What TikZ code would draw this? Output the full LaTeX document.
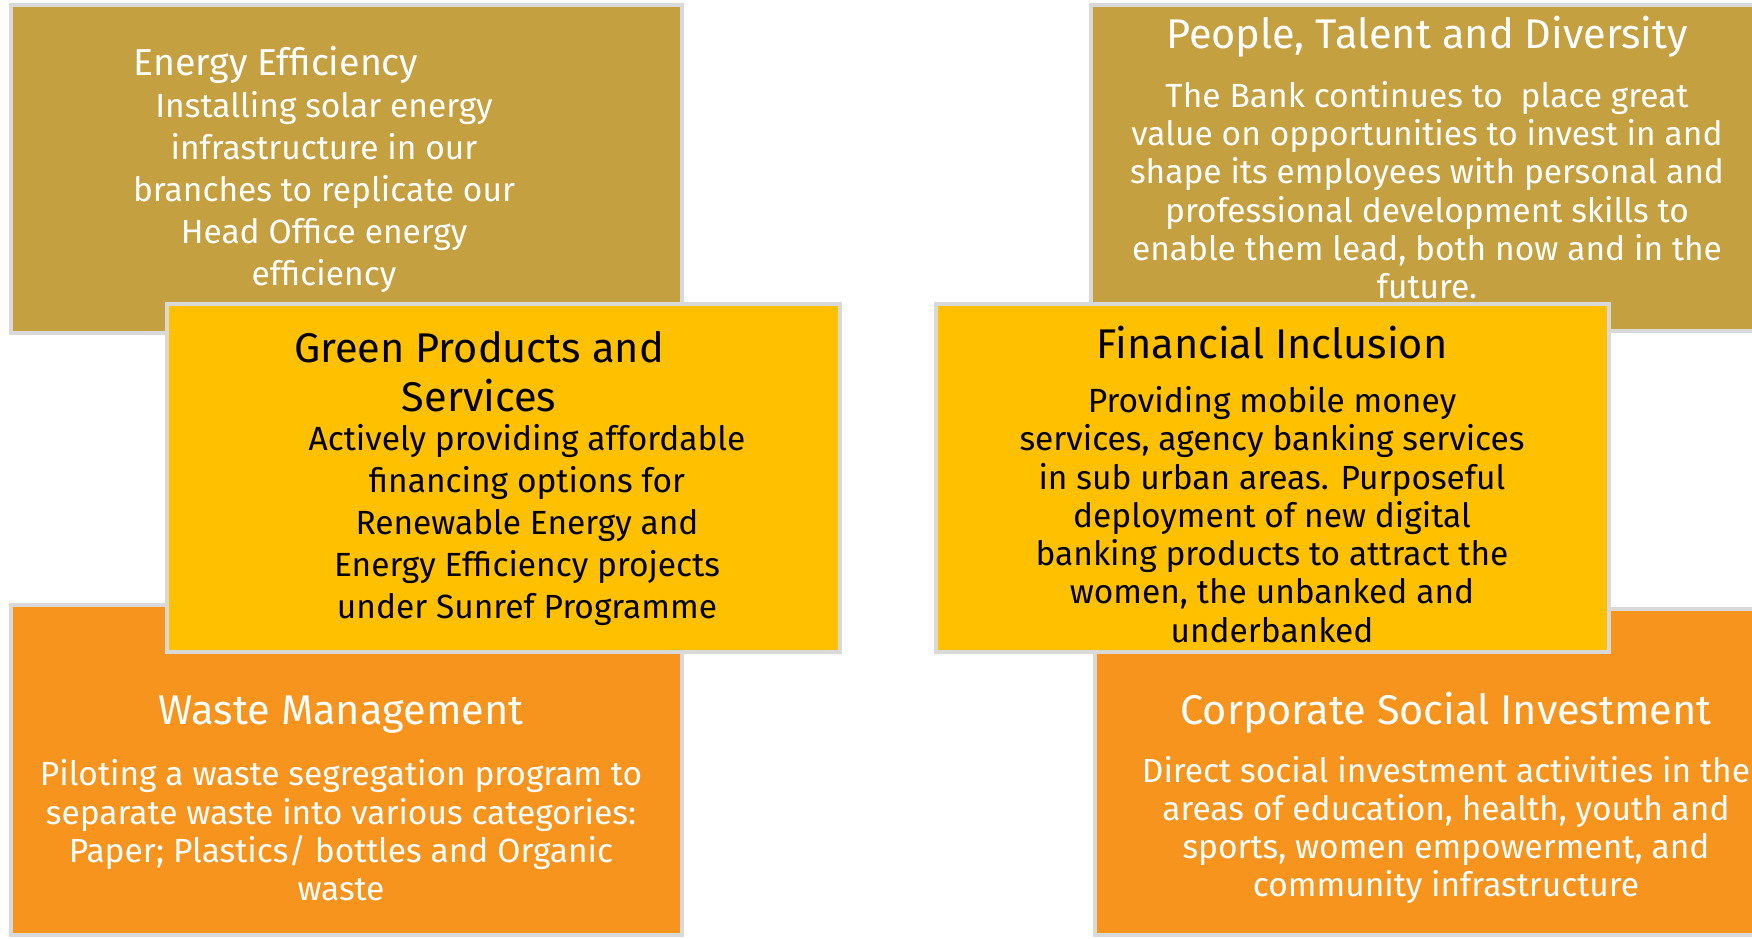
\documentclass[tikz,border=0pt]{standalone}
\usepackage{fontspec}
\setmainfont{Fira Sans}
\usepackage{xcolor}
\usetikzlibrary{positioning}

\definecolor{goldfill}{HTML}{C4A040}
\definecolor{yellowfill}{HTML}{FFC000}
\definecolor{orangefill}{HTML}{F7941E}
\definecolor{edgegray}{HTML}{D9D9D9}

\begin{document}
\begin{tikzpicture}[
    x=1pt, y=-1pt,
    panel/.style={rectangle, draw=edgegray, line width=4pt, inner sep=0pt},
    goldpanel/.style={panel, fill=goldfill},
    yellowpanel/.style={panel, fill=yellowfill},
    orangepanel/.style={panel, fill=orangefill},
    heading/.style={align=center, inner sep=0pt, font=\fontsize{41.5}{49}\selectfont},
    smallheading/.style={heading, font=\fontsize{37.5}{44}\selectfont},
    bodytext/.style={align=center, inner sep=0pt, font=\fontsize{33.5}{38.3}\selectfont},
    widebody/.style={bodytext, font=\fontsize{33.5}{42}\selectfont},
    light/.style={text=white},
    dark/.style={text=black}
]
    \useasboundingbox (0,0) rectangle (1752,938);
    \clip (0,0) rectangle (1752,938);

    % Outer panels
    \node[goldpanel, minimum width=671pt, minimum height=328pt] (EffBox) at (346.5,169) {};
    \node[goldpanel, minimum width=687pt, minimum height=326pt] (PeopleBox) at (1434.5,168) {};
    \node[orangepanel, minimum width=671pt, minimum height=330pt] (WasteBox) at (346.5,770) {};
    \node[orangepanel, minimum width=683pt, minimum height=326pt] (CsiBox) at (1436.5,772) {};

    % Inner panels
    \node[yellowpanel, minimum width=673pt, minimum height=348pt] (GreenBox) at (503.5,478) {};
    \node[yellowpanel, minimum width=673pt, minimum height=348pt] (FinBox) at (1272.5,478) {};

    % Energy Efficiency
    \node[smallheading, light] (EffTitle) at (276,65) {Energy Efficiency};
    \node[widebody, light] (EffBody) at (324,191.5)
        {Installing solar energy\\ infrastructure in our\\ branches to replicate our\\ Head Office energy\\ efficiency};

    % People, Talent and Diversity
    \node[heading, light] (PeopleTitle) at (1427,37) {People, Talent and Diversity};
    \node[bodytext, light] (PeopleBody) at (1427,190)
        {The Bank continues to\ \ place great\\ value on opportunities to invest in and\\ shape its employees with personal and\\ professional development skills to\\ enable them lead, both now and in the\\ future.};

    % Green Products and Services
    \node[heading, dark] (GreenTitle) at (479,371.5) {Green Products and\\ Services};
    \node[widebody, dark] (GreenBody) at (527,524.5)
        {Actively providing affordable\\ financing options for\\ Renewable Energy and\\ Energy Efficiency projects\\ under Sunref Programme};

    % Financial Inclusion
    \node[heading, dark] (FinTitle) at (1272,343) {Financial Inclusion};
    \node[bodytext, dark] (FinBody) at (1272,514.5)
        {Providing mobile money\\ services, agency banking services\\ in sub urban areas. Purposeful\\ deployment of new digital\\ banking products to attract the\\ women, the unbanked and\\ underbanked};

    % Waste Management
    \node[heading, light] (WasteTitle) at (341,715) {Waste Management};
    \node[bodytext, light] (WasteBody) at (341,830.5)
        {Piloting a waste segregation program to\\ separate waste into various categories:\\ Paper; Plastics/ bottles and Organic\\ waste};

    % Corporate Social Investment
    \node[heading, light] (CsiTitle) at (1446,713) {Corporate Social Investment};
    \node[bodytext, light] (CsiBody) at (1446,830)
        {Direct social investment activities in the\\ areas of education, health, youth and\\ sports, women empowerment, and\\ community infrastructure};

\end{tikzpicture}
\end{document}
